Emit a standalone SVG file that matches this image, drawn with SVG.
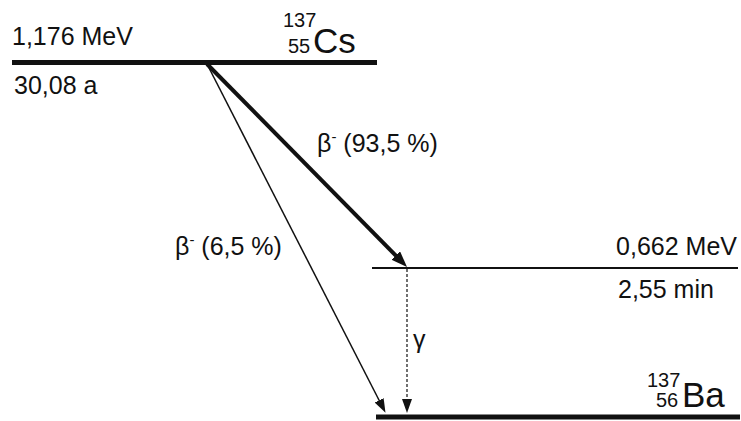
<svg xmlns="http://www.w3.org/2000/svg" width="741" height="421" viewBox="0 0 741 421">
<style>
text{font-family:"Liberation Sans",Arial,sans-serif;fill:#111}
.lbl{font-size:25px}
.big{font-size:35px}
.idx{font-size:20px}
.lvl{stroke:#111;fill:none}
</style>
<defs>
<marker id="ahThick" markerUnits="userSpaceOnUse" markerWidth="18" markerHeight="14" refX="4" refY="6" orient="auto"><path d="M0,0 L16,6 L0,12 z" fill="#111"/></marker>
<marker id="ahThin" markerUnits="userSpaceOnUse" markerWidth="16" markerHeight="12" refX="3" refY="5" orient="auto"><path d="M0,0 L14,5 L0,10 z" fill="#111"/></marker>
</defs>
<rect width="741" height="421" fill="#fff"/>
<g id="cs137">
<line class="lvl" x1="12" y1="62.5" x2="377" y2="62.5" stroke-width="5"/>
<text class="lbl" x="12" y="45">1,176 MeV</text>
<text class="lbl" x="14" y="94">30,08 a</text>
<text class="idx" x="283" y="27">137</text>
<text class="idx" x="288" y="53">55</text>
<text class="big" x="313" y="53">Cs</text>
</g>
<g id="ba137m">
<line class="lvl" x1="372" y1="268" x2="738" y2="268" stroke-width="2"/>
<text class="lbl" x="737" y="255" text-anchor="end">0,662 MeV</text>
<text class="lbl" x="618" y="298">2,55 min</text>
</g>
<g id="ba137">
<line class="lvl" x1="376" y1="417" x2="740" y2="417" stroke-width="5"/>
<text class="idx" x="647" y="387">137</text>
<text class="idx" x="656" y="407">56</text>
<text class="big" x="682" y="407">Ba</text>
</g>
<g id="connectors">
<line x1="207" y1="64" x2="398.6" y2="258.4" stroke="#111" stroke-width="4" marker-end="url(#ahThick)"/>
<line x1="207" y1="64" x2="380.5" y2="403" stroke="#111" stroke-width="1.5" marker-end="url(#ahThin)"/>
<line x1="407" y1="269" x2="407" y2="402" stroke="#111" stroke-width="1.2" stroke-dasharray="3,2" marker-end="url(#ahThin)"/>
<text class="lbl" x="317" y="152">β<tspan font-size="15" dy="-10">-</tspan><tspan dy="10"> (93,5 %)</tspan></text>
<text class="lbl" x="175" y="255">β<tspan font-size="15" dy="-10">-</tspan><tspan dy="10"> (6,5 %)</tspan></text>
<text class="lbl" x="413" y="348">γ</text>
</g>
</svg>
